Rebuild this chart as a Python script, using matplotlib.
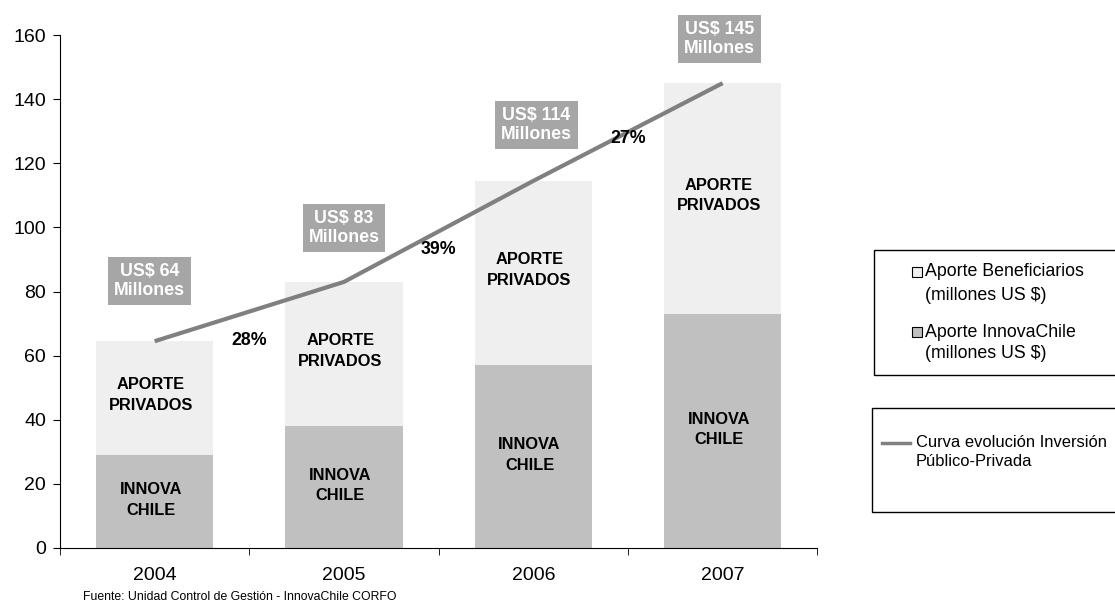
import matplotlib.pyplot as plt
from matplotlib.patches import Rectangle
from matplotlib.lines import Line2D
import numpy as np

plt.rcParams['font.family'] = ['Liberation Sans', 'DejaVu Sans']

years = ['2004', '2005', '2006', '2007']
innova = [29, 38, 57, 73]
total = [64.5, 83, 114.5, 145]
privados = [t - i for t, i in zip(total, innova)]
total_labels = ['US$ 64\nMillones', 'US$ 83\nMillones', 'US$ 114\nMillones', 'US$ 145\nMillones']
growth = ['28%', '39%', '27%']

# label placement relative to the bar tops
lab_dx = [-0.026, 0.0, 0.015, -0.015]
lab_dy = [18.8, 16.8, 17.4, 13.8]

fig = plt.figure(figsize=(11.15, 6.07), dpi=100)
ax = fig.add_axes([0.0538, 0.0972, 0.6792, 0.8451])

x = np.arange(len(years))
w = 0.62
ax.bar(x, innova, w, color='#c0c0c0', zorder=2)
ax.bar(x, privados, w, bottom=innova, color='#efefef', zorder=2)
ax.plot(x, total, color='#808080', lw=3, zorder=3, solid_capstyle='butt')

bold = dict(ha='center', va='center', fontsize=11.8, fontweight='bold', linespacing=1.45)
for i in range(len(years)):
    ax.text(x[i] - 0.02, innova[i] / 2 + 0.5, 'INNOVA\nCHILE', **bold, zorder=4)
    ax.text(x[i] - 0.02, innova[i] + privados[i] * 0.5 + 1, 'APORTE\nPRIVADOS', **bold, zorder=4)
    ax.text(x[i] + lab_dx[i], total[i] + lab_dy[i], total_labels[i], ha='center', va='center',
            fontsize=12.8, fontweight='bold', color='white', linespacing=1.2, zorder=5,
            clip_on=False, bbox=dict(boxstyle='square,pad=0.33', fc='#a6a6a6', ec='none'))

for i, g in enumerate(growth):
    ax.text(x[i] + 0.5, (total[i] + total[i + 1]) / 2 - 9 + i * 3.5, g,
            ha='center', va='center', fontsize=12.8, fontweight='bold', zorder=4)

ax.set_xlim(-0.5, 3.5)
ax.set_ylim(0, 160)
ax.set_yticks(np.arange(0, 161, 20))
ax.set_xticks(x)
ax.set_xticklabels(years)
ax.set_xticks(np.arange(-0.5, 3.6, 1), minor=True)
ax.tick_params(axis='x', which='major', length=0, pad=14, labelsize=14)
ax.tick_params(axis='x', which='minor', length=5, direction='out')
ax.tick_params(axis='y', length=5, direction='out', labelsize=14, pad=5)
for s in ['top', 'right']:
    ax.spines[s].set_visible(False)

fig.text(0.0745, 0.017, 'Fuente: Unidad Control de Gestión - InnovaChile CORFO',
         fontsize=8.8, va='center')

# legend boxes
fig.add_artist(Rectangle((0.7843, 0.3822), 0.25, 0.206, transform=fig.transFigure,
                         fc='white', ec='black', lw=1, clip_on=False))
fig.add_artist(Rectangle((0.7825, 0.1565), 0.25, 0.171, transform=fig.transFigure,
                         fc='white', ec='black', lw=1, clip_on=False))
sw, sh = 0.00897, 0.01647
legend_rows = [(0.5519, 0.514, '#efefef', 'Aporte Beneficiarios', '(millones US $)'),
               (0.453, 0.4184, '#c0c0c0', 'Aporte InnovaChile', '(millones US $)')]
for y1, y2, c, l1, l2 in legend_rows:
    fig.add_artist(Rectangle((0.818, y1 - sh / 2), sw, sh, transform=fig.transFigure,
                             fc=c, ec='black', lw=0.8))
    fig.text(0.8296, y1, l1, fontsize=12.8, va='center')
    fig.text(0.8296, y2, l2, fontsize=12.8, va='center')
fig.add_artist(Line2D([0.791, 0.816], [0.2702, 0.2702], transform=fig.transFigure,
                      color='#808080', lw=2.5))
fig.text(0.8215, 0.2702, 'Curva evolución Inversión', fontsize=11.9, va='center')
fig.text(0.8215, 0.2389, 'Público-Privada', fontsize=11.9, va='center')

fig.savefig('out.png', dpi=100)
